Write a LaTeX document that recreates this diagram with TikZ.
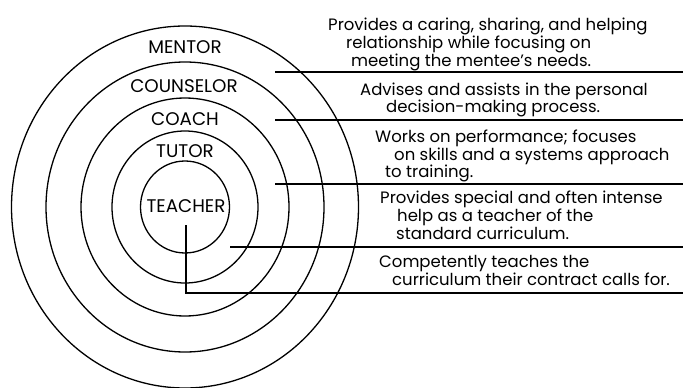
\documentclass[tikz,border=0pt]{standalone}
\usepackage{fontspec}
\setmainfont{Poppins}
\begin{document}
\begin{tikzpicture}[x=1pt,y=-1pt,
  ring/.style={draw=black, line width=1.3pt},
  leader/.style={draw=black, line width=1.3pt},
  lab/.style={font=\fontsize{18.3}{18}\selectfont, inner sep=0pt, anchor=base},
  desc/.style={font=\fontsize{16.5}{18}\selectfont, inner sep=0pt, anchor=base west}]
\useasboundingbox (0,0) rectangle (683,388);
\coordinate (c) at (185,207);
% rings
\draw[ring] (c) ellipse [x radius=173.5, y radius=181];
\draw[ring] (c) ellipse [x radius=139, y radius=145];
\draw[ring] (c) ellipse [x radius=104, y radius=109];
\draw[ring] (c) ellipse [x radius=73, y radius=76];
\draw[ring] (c) ellipse [x radius=44.5, y radius=46];
% ring labels
\node[lab] (mentor) at (185,53) {MENTOR};
\node[lab] (counselor) at (184,92) {COUNSELOR};
\node[lab] (coach) at (185,125) {COACH};
\node[lab] (tutor) at (185,157) {TUTOR};
\node[lab] (teacher) at (186,212) {TEACHER};
% descriptions
\node[desc] (d1a) at (328,30) {Provides a caring, sharing, and helping};
\node[desc] (d1b) at (346,48) {relationship while focusing on};
\node[desc] (d1c) at (351,66) {meeting the mentee’s needs.};
\node[desc] (d2a) at (360,95) {Advises and assists in the personal};
\node[desc] (d2b) at (386,112) {decision-making process.};
\node[desc] (d3a) at (375,142) {Works on performance; focuses};
\node[desc] (d3b) at (394,160) {on skills and a systems approach};
\node[desc] (d3c) at (385,177) {to training.};
\node[desc] (d4a) at (380,203) {Provides special and often intense};
\node[desc] (d4b) at (397,221) {help as a teacher of the};
\node[desc] (d4c) at (396,239) {standard curriculum.};
\node[desc] (d5a) at (379,267) {Competently teaches the};
\node[desc] (d5b) at (392,285) {curriculum their contract calls for.};
% leaders
\coordinate (aS) at (275,72);  \coordinate (aE) at (683,72);
\coordinate (bS) at (275,120); \coordinate (bE) at (683,120);
\coordinate (cS) at (275,184); \coordinate (cE) at (683,184);
\coordinate (dS) at (230,247); \coordinate (dE) at (683,247);
\coordinate (eS) at (186,225); \coordinate (eE) at (683,293);
\draw[leader] (aS) -- (aE);
\draw[leader] (bS) -- (bE);
\draw[leader] (cS) -- (cE);
\draw[leader] (dS) -- (dE);
\draw[leader] (eS) |- (eE);
\end{tikzpicture}
\end{document}
